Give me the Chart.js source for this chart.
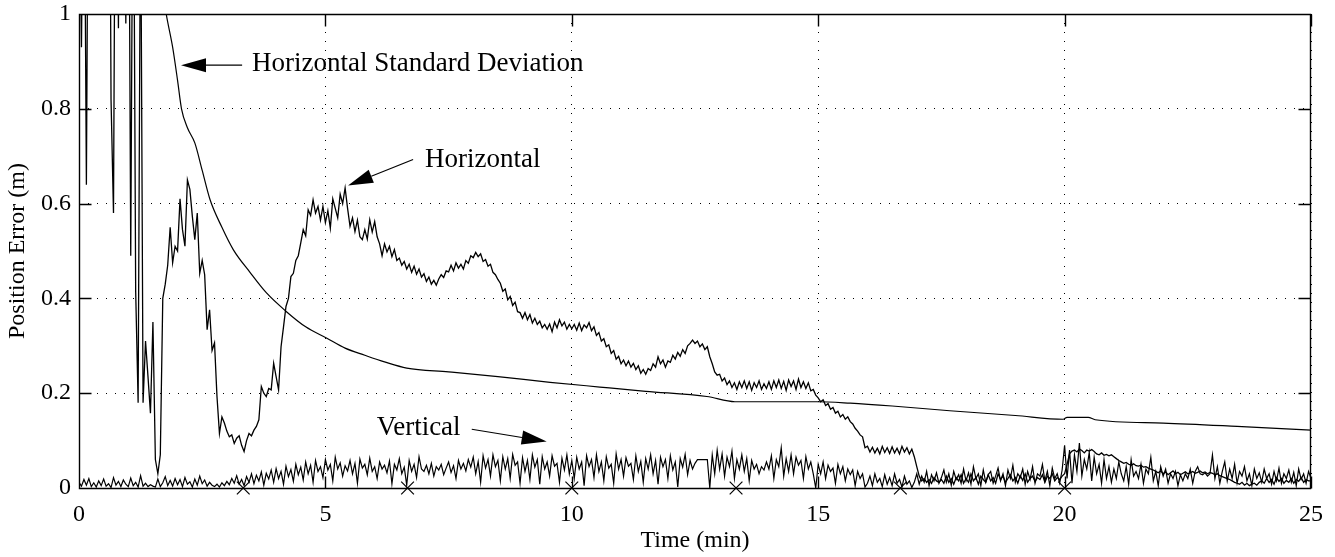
<!DOCTYPE html>
<html><head><meta charset="utf-8">
<script src="https://cdn.jsdelivr.net/npm/chart.js@4.4.0/dist/chart.umd.min.js"></script>
<style>html,body{margin:0;padding:0;background:#fff;}#wrap{width:1335px;height:557px;}</style>
</head><body><div id="wrap"><canvas id="c" width="1335" height="557"></canvas></div>
<script>
// ---- data (minutes, metres) ----
const sampleStep = 0.05; // sampling interval of the two error series, minutes
const horizontalError = [
1.4,0.93,1.5,0.64,1.6,1.8,2.0,1.9,2.2,2.0,
1.8,2.1,1.9,0.82,0.58,1.7,0.97,2.0,1.5,0.98,
1.6,0.49,1.5,0.415,0.18,1.3,0.18,0.31,0.235,0.158,
0.35,0.06,0.03,0.07,0.40,0.43,0.47,0.55,0.475,0.51,
0.50,0.61,0.545,0.51,0.65,0.63,0.573,0.524,0.58,0.453,
0.48,0.45,0.334,0.376,0.29,0.306,0.193,0.115,0.15,0.137,
0.12,0.108,0.112,0.094,0.105,0.11,0.09,0.077,0.10,0.115,
0.11,0.122,0.13,0.144,0.214,0.20,0.193,0.21,0.207,0.263,
0.235,0.207,0.298,0.34,0.383,0.40,0.446,0.453,0.48,0.49,
0.517,0.545,0.532,0.587,0.575,0.608,0.58,0.594,0.565,0.594,
0.56,0.585,0.548,0.61,0.59,0.57,0.62,0.6,0.633,0.59,
0.552,0.57,0.541,0.565,0.53,0.524,0.545,0.525,0.566,0.54,
0.562,0.53,0.515,0.49,0.515,0.498,0.51,0.488,0.503,0.48,
0.485,0.47,0.478,0.462,0.472,0.455,0.468,0.451,0.462,0.445,
0.452,0.436,0.445,0.43,0.438,0.428,0.441,0.45,0.444,0.458,
0.456,0.47,0.458,0.475,0.464,0.472,0.462,0.48,0.474,0.49,
0.486,0.497,0.488,0.494,0.478,0.482,0.468,0.472,0.455,0.45,
0.44,0.432,0.415,0.42,0.397,0.404,0.385,0.392,0.372,0.37,
0.358,0.37,0.355,0.366,0.348,0.358,0.345,0.352,0.338,0.345,
0.335,0.346,0.33,0.35,0.338,0.355,0.342,0.35,0.335,0.345,
0.336,0.345,0.333,0.348,0.332,0.344,0.338,0.349,0.332,0.34,
0.322,0.328,0.31,0.315,0.298,0.302,0.284,0.29,0.272,0.278,
0.262,0.27,0.258,0.268,0.255,0.263,0.25,0.258,0.242,0.25,
0.24,0.252,0.248,0.262,0.255,0.277,0.262,0.27,0.255,0.268,
0.265,0.28,0.272,0.286,0.278,0.292,0.284,0.3,0.305,0.312,
0.305,0.31,0.298,0.304,0.292,0.298,0.277,0.262,0.245,0.238,
0.24,0.226,0.232,0.218,0.226,0.212,0.222,0.208,0.224,0.212,
0.226,0.21,0.224,0.206,0.222,0.212,0.226,0.208,0.22,0.21,
0.224,0.208,0.226,0.212,0.228,0.21,0.225,0.206,0.228,0.214,
0.226,0.208,0.23,0.212,0.224,0.21,0.222,0.205,0.208,0.196,
0.19,0.182,0.186,0.174,0.178,0.166,0.17,0.158,0.162,0.15,
0.155,0.145,0.15,0.14,0.135,0.126,0.12,0.112,0.108,0.085,
0.088,0.076,0.086,0.074,0.084,0.072,0.088,0.075,0.085,0.073,
0.087,0.074,0.084,0.072,0.088,0.076,0.085,0.072,0.082,0.066,
0.045,0.025,0.015,0.02,0.012,0.018,0.01,0.022,0.015,0.012,
0.018,0.01,0.025,0.012,0.02,0.008,0.022,0.015,0.028,0.01,
0.02,0.012,0.03,0.015,0.022,0.008,0.025,0.018,0.012,0.028,
0.015,0.022,0.01,0.03,0.018,0.025,0.012,0.02,0.028,0.015,
0.022,0.01,0.026,0.016,0.03,0.012,0.02,0.025,0.014,0.022,
0.018,0.028,0.012,0.025,0.02,0.03,0.015,0.022,0.018,0.025,
0.03,0.05,0.072,0.078,0.08,0.076,0.082,0.079,0.074,0.08,
0.078,0.081,0.077,0.072,0.07,0.074,0.069,0.071,0.068,0.07,
0.066,0.062,0.058,0.055,0.052,0.054,0.05,0.048,0.051,0.047,
0.046,0.048,0.044,0.045,0.042,0.04,0.038,0.035,0.032,0.036,
0.03,0.034,0.028,0.032,0.036,0.03,0.033,0.028,0.031,0.034,
0.03,0.032,0.035,0.031,0.033,0.036,0.032,0.034,0.03,0.033,
0.031,0.028,0.03,0.026,0.024,0.022,0.02,0.018,0.015,0.012,
0.01,0.008,0.012,0.006,0.01,0.005,0.008,0.01,0.006,0.012,
0.015,0.01,0.02,0.012,0.018,0.008,0.022,0.014,0.02,0.01,
0.016,0.012,0.02,0.01,0.018,0.014,0.022,0.012,0.018,0.015,
0.015];
const verticalError = [
0.012,0.004,0.018,0.006,0.02,0.003,0.011,0.002,0.015,0.005,
0.019,0.004,0.009,0.001,0.022,0.006,0.014,0.003,0.017,0.008,
0.003,0.021,0.005,0.012,0.002,0.026,0.004,0.01,0.003,0.007,
0.004,0.002,0.019,0.003,0.011,0.024,0.005,0.016,0.004,0.02,
0.007,0.018,0.003,0.022,0.008,0.013,0.002,0.019,0.006,0.025,
0.009,0.017,0.004,0.012,0.006,0.003,0.008,0.002,0.011,0.005,
0.014,0.007,0.02,0.01,0.026,0.008,0.018,0.005,0.024,0.012,
0.03,0.009,0.027,0.015,0.034,0.006,0.031,0.019,0.038,0.012,
0.041,0.02,0.035,0.008,0.046,0.024,0.039,0.014,0.05,0.028,
0.044,0.017,0.055,0.03,0.048,0.012,0.058,0.035,0.045,0.022,
0.06,0.038,0.05,0.015,0.065,0.04,0.053,0.025,0.047,0.036,
0.058,0.03,0.052,0.01,0.061,0.042,0.05,0.028,0.063,0.035,
0.045,0.02,0.055,0.04,0.048,0.032,0.057,0.009,0.05,0.038,
0.062,0.03,0.044,0.006,0.058,0.035,0.05,0.022,0.066,0.04,
0.035,0.048,0.03,0.052,0.025,0.045,0.038,0.05,0.028,0.042,
0.055,0.033,0.047,0.02,0.058,0.04,0.052,0.036,0.06,0.044,
0.065,0.03,0.056,0.012,0.068,0.042,0.06,0.025,0.07,0.045,
0.058,0.015,0.066,0.04,0.062,0.02,0.071,0.048,0.055,0.01,
0.064,0.035,0.058,0.018,0.07,0.044,0.06,0.008,0.066,0.04,
0.055,0.025,0.068,0.046,0.052,0.012,0.063,0.038,0.07,0.03,
0.058,0.02,0.065,0.04,0.055,0.005,0.068,0.045,0.06,0.022,
0.07,0.035,0.055,0.015,0.066,0.042,0.05,0.01,0.072,0.04,
0.06,0.025,0.064,0.046,0.052,0.018,0.068,0.035,0.056,0.012,
0.062,0.04,0.07,0.03,0.058,0.008,0.065,0.045,0.06,0.02,
0.068,0.038,0.055,0.002,0.062,0.044,0.071,0.028,0.058,0.04,
0.052,0.06,0.06,0.06,0.06,0.06,0.0,0.07,0.03,0.08,
0.04,0.072,0.025,0.065,0.045,0.078,0.02,0.06,0.04,0.07,
0.035,0.062,0.015,0.058,0.04,0.05,0.03,0.045,0.038,0.055,
0.04,0.068,0.02,0.06,0.045,0.085,0.025,0.062,0.035,0.07,
0.03,0.065,0.048,0.058,0.02,0.066,0.04,0.055,0.03,0.0,
0.05,0.03,0.055,0.02,0.048,0.035,0.042,0.01,0.05,0.03,
0.045,0.015,0.04,0.028,0.038,0.005,0.035,0.02,0.03,0.002,
0.01,0.025,0.005,0.03,0.012,0.02,0.003,0.028,0.008,0.022,
0.005,0.03,0.01,0.018,0.002,0.025,0.008,0.015,0.001,0.012,
0.03,0.008,0.025,0.012,0.035,0.005,0.028,0.015,0.032,0.01,
0.022,0.038,0.012,0.03,0.006,0.035,0.018,0.028,0.01,0.04,
0.015,0.032,0.008,0.045,0.02,0.03,0.005,0.038,0.012,0.028,
0.035,0.01,0.025,0.042,0.015,0.03,0.005,0.038,0.02,0.048,
0.012,0.03,0.022,0.04,0.008,0.035,0.018,0.045,0.01,0.03,
0.025,0.05,0.015,0.035,0.005,0.042,0.02,0.03,0.01,0.038,
0.09,0.02,0.08,0.01,0.07,0.035,0.095,0.025,0.06,0.04,
0.075,0.015,0.065,0.03,0.05,0.01,0.06,0.02,0.045,0.012,
0.04,0.02,0.055,0.03,0.015,0.045,0.008,0.06,0.025,0.035,
0.02,0.05,0.01,0.04,0.03,0.065,0.015,0.035,0.005,0.045,
0.025,0.04,0.01,0.03,0.02,0.035,0.005,0.028,0.015,0.03,
0.02,0.04,0.01,0.035,0.045,0.03,0.028,0.032,0.025,0.03,
0.07,0.02,0.045,0.01,0.035,0.055,0.015,0.04,0.02,0.05,
0.01,0.035,0.025,0.045,0.015,0.03,0.005,0.04,0.02,0.032,
0.012,0.04,0.02,0.03,0.008,0.035,0.015,0.042,0.01,0.03,
0.02,0.038,0.012,0.033,0.005,0.04,0.018,0.03,0.01,0.035,
0.02];
const stdTime = [1.70,1.77,1.90,2.00,2.08,2.20,2.35,2.50,2.66,2.90,3.13,3.47,3.80,4.21,4.60,5.03,5.40,5.80,6.20,6.65,7.50,8.50,9.56,10.57,11.50,12.74,13.31,14.00,14.97,15.65,16.50,17.67,19.00,19.97,20.05,20.48,20.62,22.00,23.50,25.00];
const stdDeviation = [1.05,1.0,0.93,0.86,0.80,0.76,0.728,0.67,0.608,0.55,0.503,0.455,0.412,0.372,0.34,0.316,0.295,0.28,0.266,0.253,0.245,0.235,0.223,0.213,0.204,0.193,0.182,0.182,0.182,0.179,0.173,0.163,0.153,0.145,0.149,0.149,0.144,0.137,0.13,0.122];
const markerTimes = [3.333,6.667,10,13.333,16.667,20];
const markerValues = [0,0,0,0,0,0];
const xTickValues = [0,5,10,15,20,25];
const yTickValues = [0,0.2,0.4,0.6,0.8,1];
const yTickLabels = ['0','0.2','0.4','0.6','0.8','1'];
const annotationTexts = ['Horizontal Standard Deviation','Horizontal','Vertical'];
const annotationTextAt = [[3.51,0.879],[7.02,0.678],[6.04,0.112]];
const arrowTails = [[3.31,0.892],[6.78,0.693],[7.97,0.124]];
const arrowTips = [[2.07,0.892],[5.46,0.638],[9.49,0.098]];

// ---- build ----
const toPoints = (xs, ys) => ys.map((v, i) => ({x: xs[i], y: v}));
const sampleTimes = n => Array.from({length: n}, (_, i) => +(i * sampleStep).toFixed(2));
const FONT = '"Liberation Serif","Times New Roman",serif';
Chart.defaults.font.family = FONT;
Chart.defaults.color = '#000';

const framePlugin = {
  id: 'frame',
  afterDatasetsDraw(chart) {
    const {ctx, chartArea: a, scales: {x, y}} = chart;
    ctx.save();
    ctx.strokeStyle = '#000';
    ctx.lineWidth = 1.4;
    const L = Math.round(a.left) + 0.5, R = Math.round(a.right) - 0.5;
    const T = Math.round(a.top) + 0.5, B = Math.round(a.bottom) + 0.5;
    ctx.beginPath();
    ctx.rect(L, T, R - L, B - T);
    const tl = 12;
    xTickValues.forEach(v => {
      const p = Math.round(x.getPixelForValue(v)) + 0.5;
      ctx.moveTo(p, B); ctx.lineTo(p, B - tl);
      ctx.moveTo(p, T); ctx.lineTo(p, T + tl);
    });
    yTickValues.forEach(v => {
      const p = Math.round(y.getPixelForValue(v)) + 0.5;
      ctx.moveTo(L, p); ctx.lineTo(L + tl, p);
      ctx.moveTo(R, p); ctx.lineTo(R - tl, p);
    });
    ctx.stroke();
    // annotations
    ctx.fillStyle = '#000';
    ctx.lineWidth = 1.2;
    ctx.font = '27px ' + FONT;
    ctx.textAlign = 'left';
    ctx.textBaseline = 'alphabetic';
    annotationTexts.forEach((t, i) => {
      const [tx, ty] = annotationTextAt[i];
      ctx.fillText(t, x.getPixelForValue(tx), y.getPixelForValue(ty));
      const x0 = x.getPixelForValue(arrowTails[i][0]), y0 = y.getPixelForValue(arrowTails[i][1]);
      const x1 = x.getPixelForValue(arrowTips[i][0]), y1 = y.getPixelForValue(arrowTips[i][1]);
      const ang = Math.atan2(y1 - y0, x1 - x0);
      const hl = 25, hw = 7;
      const bx = x1 - hl * Math.cos(ang), by = y1 - hl * Math.sin(ang);
      ctx.beginPath();
      ctx.moveTo(x0, y0); ctx.lineTo(bx, by); ctx.stroke();
      ctx.beginPath();
      ctx.moveTo(x1, y1);
      ctx.lineTo(bx + hw * Math.sin(ang), by - hw * Math.cos(ang));
      ctx.lineTo(bx - hw * Math.sin(ang), by + hw * Math.cos(ang));
      ctx.closePath();
      ctx.fill();
    });
    ctx.restore();
  }
};

new Chart(document.getElementById('c'), {
  type: 'line',
  data: {
    datasets: [
      {label: 'Horizontal', data: toPoints(sampleTimes(horizontalError.length), horizontalError), borderColor: '#000', borderWidth: 1.3, pointRadius: 0, tension: 0},
      {label: 'Vertical', data: toPoints(sampleTimes(verticalError.length), verticalError), borderColor: '#000', borderWidth: 1.2, pointRadius: 0, tension: 0},
      {label: 'Horizontal Standard Deviation', data: toPoints(stdTime, stdDeviation), borderColor: '#000', borderWidth: 1.2, pointRadius: 0, tension: 0.3, cubicInterpolationMode: 'monotone'},
      {label: 'Markers', data: toPoints(markerTimes, markerValues), showLine: false, pointStyle: 'crossRot', pointRadius: 9, borderColor: '#000', pointBorderWidth: 1.2, backgroundColor: '#000', clip: false}
    ]
  },
  options: {
    responsive: false,
    animation: false,
    events: [],
    layout: {padding: {top: 14, right: 24, left: 0, bottom: 0}},
    plugins: {legend: {display: false}, tooltip: {enabled: false}},
    scales: {
      x: {
        type: 'linear', min: 0, max: 25,
        afterBuildTicks: s => { s.ticks = xTickValues.map(v => ({value: v})); },
        afterFit: s => { s.height = 69; s.paddingLeft = 0; s.paddingRight = 0; },
        ticks: {font: {size: 24}, color: '#000', padding: 12, maxRotation: 0, callback: v => String(v)},
        grid: {color: '#000', lineWidth: 1, drawTicks: false},
        border: {display: false, dash: [1, 8]},
        title: {display: true, text: 'Time (min)', font: {size: 24}, color: '#000', padding: {top: 0, bottom: 2}}
      },
      y: {
        type: 'linear', min: 0, max: 1,
        afterBuildTicks: s => { s.ticks = yTickValues.map(v => ({value: v})); },
        afterFit: s => { s.width = 79; s.paddingTop = 0; s.paddingBottom = 0; },
        ticks: {font: {size: 24}, color: '#000', padding: 8, callback: (v, i) => yTickLabels[i]},
        grid: {color: '#000', lineWidth: 1, drawTicks: false},
        border: {display: false, dash: [1, 8]},
        title: {display: true, text: 'Position Error (m)', font: {size: 24}, color: '#000', padding: {top: 3, bottom: 0}}
      }
    }
  },
  plugins: [framePlugin]
});
</script></body></html>
